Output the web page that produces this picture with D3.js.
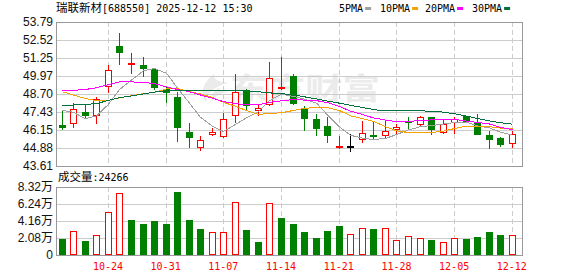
<!DOCTYPE html>
<html>
<head>
<meta charset="utf-8">
<script src="https://cdn.jsdelivr.net/npm/d3@7"></script>
<style>
body { margin: 0; background: #fff; }
svg { display: block; }
</style>
</head>
<body>
<div id="chart"></div>
<script>
// trading days shown (2025)
const dates = ["10-20","10-21","10-22","10-23","10-24","10-27","10-28","10-29","10-30","10-31",
               "11-03","11-04","11-05","11-06","11-07","11-10","11-11","11-12","11-13","11-14",
               "11-17","11-18","11-19","11-20","11-21","11-24","11-25","11-26","11-27","11-28",
               "12-01","12-02","12-03","12-04","12-05","12-08","12-09","12-10","12-11","12-12"];
const tickDates = ["10-24","10-31","11-07","11-14","11-21","11-28","12-05","12-12"];

const open  = [46.52,46.57,47.41,47.15,49.16,52.12,50.90,50.72,50.49,49.02,48.48,46.01,44.91,45.80,45.65,47.15,48.97,47.52,47.92,49.09,
               49.95,47.62,46.92,46.45,44.97,45.02,45.42,45.77,45.75,46.15,46.82,46.52,47.04,45.97,46.67,47.14,46.62,45.78,45.57,45.13];
const high  = [47.50,48.04,47.97,48.48,50.77,52.99,51.61,51.35,50.56,49.20,48.85,46.66,45.75,46.31,47.34,50.14,49.04,47.92,50.96,51.35,
               50.14,47.85,47.29,47.06,45.75,45.89,46.80,46.75,46.85,46.61,47.06,47.17,47.06,46.83,47.09,47.18,47.28,46.06,45.69,46.06];
const low   = [46.12,46.33,46.92,46.57,48.78,50.77,50.14,49.90,48.97,48.08,45.30,44.86,44.65,45.70,45.59,46.68,47.50,47.17,47.85,48.95,
               47.92,46.10,45.75,45.21,44.84,44.58,45.24,45.47,45.59,45.82,46.15,46.47,45.80,45.90,45.90,46.67,45.78,44.82,44.92,44.89];
const close = [46.33,47.62,47.15,48.34,50.42,51.59,50.92,50.44,49.13,48.78,46.33,45.56,45.44,46.01,46.92,48.81,47.87,47.69,49.86,49.23,
               47.99,46.94,46.26,45.70,44.99,45.02,45.93,45.74,46.10,46.36,46.68,47.08,46.15,46.60,46.95,46.72,45.80,45.43,45.10,45.90];
const prevClose = 46.60; // close of the day before 10-20 (only sets first volume bar colour)

// volume in 万
const volume = [1.95,2.97,1.73,2.49,5.27,7.56,4.34,3.74,4.22,3.74,7.72,4.34,3.13,2.77,2.77,6.47,3.01,1.57,6.35,4.58,
                3.74,2.77,2.05,2.89,3.50,2.53,3.34,3.13,3.34,1.89,2.37,2.13,1.81,1.57,2.13,1.93,2.17,2.77,2.41,2.43];

const ma5  = [47.55,47.40,46.95,47.15,47.97,49.02,49.68,50.34,50.50,50.17,49.12,48.05,47.05,46.42,46.05,46.55,47.01,47.46,48.23,48.69,
              48.53,48.34,48.06,47.22,46.38,45.78,45.58,45.48,45.56,45.83,46.16,46.39,46.47,46.57,46.69,46.70,46.44,46.30,46.00,45.79];
const ma10 = [48.86,48.62,48.39,48.22,48.25,48.43,48.57,48.74,48.80,49.07,49.07,48.87,48.70,48.46,48.11,47.83,47.53,47.25,47.33,47.37,
              47.54,47.68,47.76,47.73,47.53,47.16,46.96,46.77,46.39,46.10,45.97,45.99,45.98,46.07,46.26,46.43,46.42,46.39,46.29,46.24];
const ma20 = [48.93,48.96,49.02,49.14,49.37,49.55,49.56,49.51,49.44,49.20,49.02,48.86,48.63,48.40,48.16,48.02,47.93,47.93,48.11,48.22,
              48.31,48.27,48.23,48.09,47.82,47.49,47.25,47.01,46.86,46.74,46.76,46.83,46.87,46.90,46.90,46.79,46.69,46.58,46.34,46.17];
const ma30 = [47.87,47.92,47.96,48.02,48.25,48.44,48.56,48.70,48.84,48.91,48.93,48.94,48.95,48.95,48.95,48.95,48.93,48.86,48.78,48.72,
              48.65,48.50,48.35,48.20,48.05,47.90,47.75,47.60,47.50,47.52,47.53,47.51,47.48,47.42,47.30,47.14,46.97,46.80,46.67,46.57];

const priceTicks = [43.61,44.88,46.15,47.43,48.70,49.97,51.25,52.52,53.79];
const volTicks = [0,2.08,4.16,6.24,8.32];
const maNames = ["5PMA","10PMA","20PMA","30PMA"];
const maColors = ["#a0a0a0","#f5a300","#ff00ff","#00703c"];

const UP = "#ff0000", DOWN = "#008000", FLAT = "#000000";
const GRID = "#cccccc", FRAME = "#999999";
const MONO = "'DejaVu Sans Mono', monospace";
const CJK = "'Noto Sans CJK SC', sans-serif";

const W = 578, H = 276;
const plotLeft = 56, plotRight = 522, step = 11.54;
const plotTop = 22, plotBottom = 166, vTop = 187, vBottom = 255;

const svg = d3.select("#chart").append("svg")
    .attr("width", W)
    .attr("height", H)
    .style("font-family", "'Liberation Sans', Arial, sans-serif");

const x = d3.scaleBand().domain(dates).range([plotLeft, plotLeft + step * dates.length]);
const cx = d => Math.round(x(d) + x.bandwidth() / 2);
const y = d3.scaleLinear().domain([43.61, 53.79]).range([plotBottom, plotTop]);
const yv = d3.scaleLinear().domain([0, 8.32]).range([vBottom, vTop]);

const rows = dates.map((d, i) => ({
    d, o: open[i], h: high[i], l: low[i], c: close[i], v: volume[i],
    volUp: close[i] >= (i ? close[i - 1] : prevClose)
}));

//Watermark
const wm = svg.append("g").attr("fill", "#ebebeb");
wm.append("path")
    .attr("d", "M214,74 C203,82 199,94 206,102 C207,93 213,87 228,83 C220,82 213,80 214,74Z M219,88 C212,92 210,97 213,101 C215,96 220,93 228,92 C224,91 220,91 219,88Z");
wm.append("text")
    .attr("x", 230).attr("y", 99)
    .attr("font-family", CJK).attr("font-weight", "bold").attr("font-size", 30)
    .attr("textLength", 150).attr("lengthAdjust", "spacingAndGlyphs")
    .text("东方财富");

//Horizontal grid
svg.append("g").selectAll("line")
    .data(priceTicks.slice(1, -1))
    .join("line")
    .attr("x1", plotLeft).attr("x2", plotRight)
    .attr("y1", d => Math.round(y(d)) + 0.5).attr("y2", d => Math.round(y(d)) + 0.5)
    .attr("stroke", GRID);
svg.append("g").selectAll("line")
    .data(volTicks.slice(1, -1))
    .join("line")
    .attr("x1", plotLeft).attr("x2", plotRight)
    .attr("y1", d => Math.round(yv(d)) + 0.5).attr("y2", d => Math.round(yv(d)) + 0.5)
    .attr("stroke", GRID);

//Vertical dashed grid
[[plotTop, plotBottom], [vTop, vBottom]].forEach(([a, b]) => {
    svg.append("g").selectAll("line")
        .data(tickDates)
        .join("line")
        .attr("x1", d => cx(d) + 0.5).attr("x2", d => cx(d) + 0.5)
        .attr("y1", a).attr("y2", b)
        .attr("stroke", GRID)
        .attr("stroke-dasharray", "5,3");
});

//Frames
svg.append("rect").attr("x", plotLeft + 0.5).attr("y", plotTop + 0.5)
    .attr("width", plotRight - plotLeft).attr("height", plotBottom - plotTop)
    .attr("fill", "none").attr("stroke", FRAME);
svg.append("rect").attr("x", plotLeft + 0.5).attr("y", vTop + 0.5)
    .attr("width", plotRight - plotLeft).attr("height", vBottom - vTop)
    .attr("fill", "none").attr("stroke", FRAME);

//Candles
const colorOf = r => r.c > r.o ? UP : (r.c < r.o ? DOWN : FLAT);
const candles = svg.append("g").attr("shape-rendering", "crispEdges");
rows.forEach(r => {
    const xc = cx(r.d);
    const col = colorOf(r);
    const yT = Math.round(y(Math.max(r.o, r.c)));
    const yB = Math.round(y(Math.min(r.o, r.c)));
    const yH = Math.round(y(r.h));
    const yL = Math.round(y(r.l));
    const g = candles.append("g");
    if (r.c > r.o && yB - yT >= 2) {
        // hollow up candle
        g.append("line").attr("x1", xc + 0.5).attr("x2", xc + 0.5).attr("y1", yH).attr("y2", yT).attr("stroke", col);
        g.append("line").attr("x1", xc + 0.5).attr("x2", xc + 0.5).attr("y1", yB).attr("y2", yL).attr("stroke", col);
        g.append("rect").attr("x", xc - 2.5).attr("y", yT + 0.5)
            .attr("width", 6).attr("height", yB - yT - 1)
            .attr("fill", "#fff").attr("stroke", col);
    } else {
        g.append("line").attr("x1", xc + 0.5).attr("x2", xc + 0.5).attr("y1", yH).attr("y2", yL).attr("stroke", col);
        g.append("rect").attr("x", xc - 3).attr("y", yT)
            .attr("width", 7).attr("height", Math.max(2, yB - yT))
            .attr("fill", col);
    }
});

//Moving averages
[ma5, ma10, ma20, ma30].forEach((arr, k) => {
    svg.append("path")
        .datum(arr)
        .attr("fill", "none")
        .attr("stroke", maColors[k])
        .attr("stroke-width", 1)
        .attr("shape-rendering", "crispEdges")
        .attr("d", d3.line().x((v, i) => cx(dates[i]) + 0.5).y(v => y(v)));
});

//Volume bars
const vols = svg.append("g").attr("shape-rendering", "crispEdges");
rows.forEach(r => {
    const xc = cx(r.d);
    const yT = Math.round(yv(r.v));
    if (r.volUp) {
        vols.append("rect").attr("x", xc - 2.5).attr("y", yT + 0.5)
            .attr("width", 6).attr("height", vBottom - yT - 1)
            .attr("fill", "#fff").attr("stroke", UP);
    } else {
        vols.append("rect").attr("x", xc - 3).attr("y", yT)
            .attr("width", 7).attr("height", vBottom - yT)
            .attr("fill", DOWN);
    }
});

//Y axes
const yAxis = svg.append("g")
    .attr("transform", `translate(${plotLeft},0)`)
    .call(d3.axisLeft(y).tickValues(priceTicks).tickFormat(d3.format(".2f")).tickSize(0).tickPadding(3));
const vAxis = svg.append("g")
    .attr("transform", `translate(${plotLeft},0)`)
    .call(d3.axisLeft(yv).tickValues(volTicks).tickFormat(d => d === 0 ? "0" : d.toFixed(2) + "万").tickSize(0).tickPadding(3));
[yAxis, vAxis].forEach(a => {
    a.select(".domain").remove();
    a.selectAll("text").attr("font-size", 12).attr("fill", "#111")
        .attr("font-family", "'Liberation Sans', Arial, 'Noto Sans CJK SC', sans-serif");
});

//X axis
const xAxis = svg.append("g")
    .attr("transform", `translate(0,${vBottom})`)
    .call(d3.axisBottom(x).tickValues(tickDates).tickSize(0).tickPadding(8));
xAxis.select(".domain").remove();
xAxis.selectAll("text").attr("font-size", 10).attr("font-family", MONO).attr("fill", UP);

//Title
const title = svg.append("text").attr("x", plotLeft).attr("y", 12).attr("fill", "#000");
title.append("tspan").attr("font-family", CJK).attr("font-size", 11.5).text("瑞联新材");
title.append("tspan").attr("font-family", MONO).attr("font-size", 10).text("[688550] 2025-12-12 15:30");

//Legend
const legX = [339, 380, 425, 472];
maNames.forEach((name, k) => {
    const t = svg.append("text")
        .attr("x", legX[k]).attr("y", 12)
        .attr("font-family", MONO).attr("font-size", 10).attr("fill", "#000")
        .text(name);
    const w = t.node().getComputedTextLength();
    svg.append("rect")
        .attr("x", legX[k] + w + 2).attr("y", 7)
        .attr("width", 6).attr("height", 3)
        .attr("fill", maColors[k]);
});

//Volume label
const vl = svg.append("text").attr("x", 58).attr("y", 181).attr("fill", "#000");
vl.append("tspan").attr("font-family", CJK).attr("font-size", 11.5).text("成交量");
vl.append("tspan").attr("font-family", MONO).attr("font-size", 10).text(":24266");
</script>
</body>
</html>
